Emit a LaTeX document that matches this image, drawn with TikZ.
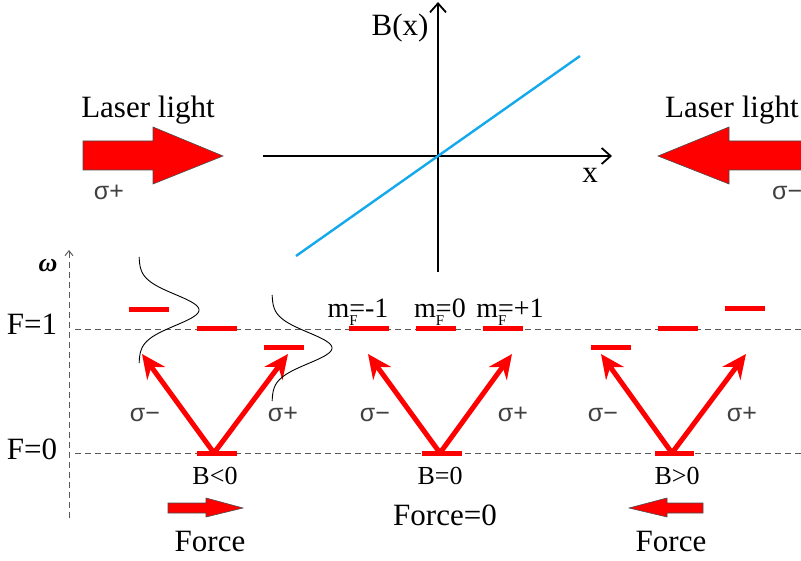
\documentclass[tikz,border=0pt]{standalone}
\usepackage{fontspec}
\setmainfont{Liberation Serif}
\newfontfamily\sigfont{Liberation Sans}
\usetikzlibrary{arrows.meta}
\definecolor{lineblue}{RGB}{20,168,236}
\tikzset{
  lvl/.style={red, line width=5pt},
  trans/.style={red, line width=5pt, -{Stealth[length=24pt,width=22pt,inset=8pt]}},
  guide/.style={black!65, line width=0.9pt, dash pattern=on 6pt off 4pt},
  axisline/.style={black, line width=1.8pt, -{Straight Barb[length=9pt,width=16pt,line width=1.8pt]}},
  bigtxt/.style={inner sep=0pt, font=\fontsize{31}{36}\selectfont},
  midtxt/.style={inner sep=0pt, font=\fontsize{26}{30}\selectfont},
  mftxt/.style={inner sep=0pt, font=\fontsize{28}{32}\selectfont},
  sigtxt/.style={inner sep=0pt, text=black!75, font=\sigfont\fontsize{25}{30}\selectfont},
  bigarrow/.style={fill=red, draw=black!70, line width=0.6pt},
  gauss/.style={black, line width=0.9pt},
}
\newcommand{\mF}{m\rlap{\raisebox{-8pt}{\fontsize{15}{17}\selectfont F}}=}
\begin{document}
\begin{tikzpicture}[x=1pt,y=-1pt]
\useasboundingbox (0,0) rectangle (801,561);

% ---- B(x) graph ----
\coordinate (xl) at (263,156);
\coordinate (xr) at (612,156);
\coordinate (yb) at (438,272);
\coordinate (yt) at (438,2);
\coordinate (bl) at (296,256);
\coordinate (br) at (580,56);
\draw[axisline] (xl) -- (xr);
\draw[axisline] (yb) -- (yt);
\draw[lineblue, line width=2.4pt] (bl) -- (br);
\node[bigtxt, anchor=base] (bx) at (400,36) {B(x)};
\node[bigtxt, anchor=base] (xlab) at (590,183) {x};

% ---- laser beams ----
\draw[bigarrow] (83,141) -- (153,141) -- (153,127) -- (223,156) -- (153,184) -- (153,170) -- (83,170) -- cycle;
\draw[bigarrow] (815,141) -- (729,141) -- (729,127) -- (658,156) -- (729,184) -- (729,170) -- (815,170) -- cycle;
\node[bigtxt, anchor=base] (laserL) at (148,118) {Laser light};
\node[bigtxt, anchor=base west] (laserR) at (665,118) {Laser light};
\node[sigtxt, anchor=base] (sigL) at (109,200) {σ+};
\node[sigtxt, anchor=base west] (sigR) at (772,200) {σ−};

% ---- energy axis and levels ----
\coordinate (wb) at (69,518);
\coordinate (wt) at (69,250);
\draw[guide, -{Straight Barb[length=5pt,width=8pt]}] (wb) -- (wt);
\node[inner sep=0pt, anchor=base, font=\fontsize{26}{30}\selectfont\bfseries\itshape] (om) at (48,272) {ω};
\coordinate (f1l) at (75,329);
\coordinate (f1r) at (801,329);
\coordinate (f0l) at (75,453);
\coordinate (f0r) at (801,453);
\draw[guide] (f1l) -- (f1r);
\draw[guide] (f0l) -- (f0r);
\node[bigtxt, anchor=base] (F1) at (32,335) {F=1};
\node[bigtxt, anchor=base] (F0) at (32,459) {F=0};

% ---- left group: B<0 ----
\draw[lvl] (129,310) -- (169,310);
\draw[lvl] (197,329) -- (237,329);
\draw[lvl] (264,348) -- (304,348);
\draw[lvl] (197,453) -- (237,453);
\coordinate (gL) at (214,453);
\coordinate (tLm) at (142,354);
\coordinate (tLp) at (288,354);
\draw[trans] (gL) -- (tLm);
\draw[trans] (gL) -- (tLp);
\draw[gauss] plot[domain=-53:53, samples=80, smooth] ({139+60*exp(-(\x)*(\x)/480)}, {310+\x});
\draw[gauss] plot[domain=-53:53, samples=80, smooth] ({272+60*exp(-(\x)*(\x)/480)}, {348+\x});
\node[sigtxt, anchor=base] (sL1) at (145,421) {σ−};
\node[sigtxt, anchor=base] (sL2) at (283,421) {σ+};
\node[midtxt, anchor=base] (BL) at (215,484) {B<0};
\draw[bigarrow] (168,503) -- (206,503) -- (206,498) -- (243,508) -- (206,517) -- (206,513) -- (168,513) -- cycle;
\node[bigtxt, anchor=base] (forceL) at (210,551) {Force};

% ---- middle group: B=0 ----
\draw[lvl] (349,329) -- (389,329);
\draw[lvl] (416,329) -- (456,329);
\draw[lvl] (483,329) -- (523,329);
\draw[lvl] (422,453) -- (462,453);
\coordinate (gM) at (440,453);
\coordinate (tMm) at (368,354);
\coordinate (tMp) at (512,354);
\draw[trans] (gM) -- (tMm);
\draw[trans] (gM) -- (tMp);
\node[mftxt, anchor=base] (m1) at (358,318) {\mF-1};
\node[mftxt, anchor=base] (m2) at (440,318) {\mF0};
\node[mftxt, anchor=base] (m3) at (510,318) {\mF+1};
\node[sigtxt, anchor=base] (sM1) at (375,421) {σ−};
\node[sigtxt, anchor=base] (sM2) at (513,421) {σ+};
\node[midtxt, anchor=base] (BM) at (440,484) {B=0};
\node[bigtxt, anchor=base] (force0) at (445,525) {Force=0};

% ---- right group: B>0 ----
\draw[lvl] (591,348) -- (631,348);
\draw[lvl] (658,329) -- (698,329);
\draw[lvl] (725,309) -- (765,309);
\draw[lvl] (655,453) -- (694,453);
\coordinate (gR) at (672,453);
\coordinate (tRm) at (601,354);
\coordinate (tRp) at (746,354);
\draw[trans] (gR) -- (tRm);
\draw[trans] (gR) -- (tRp);
\node[sigtxt, anchor=base] (sR1) at (603,421) {σ−};
\node[sigtxt, anchor=base] (sR2) at (742,421) {σ+};
\node[midtxt, anchor=base] (BR) at (677,484) {B>0};
\draw[bigarrow] (703,503) -- (667,503) -- (667,498) -- (629,508) -- (667,517) -- (667,513) -- (703,513) -- cycle;
\node[bigtxt, anchor=base] (forceR) at (671,551) {Force};
\end{tikzpicture}
\end{document}
